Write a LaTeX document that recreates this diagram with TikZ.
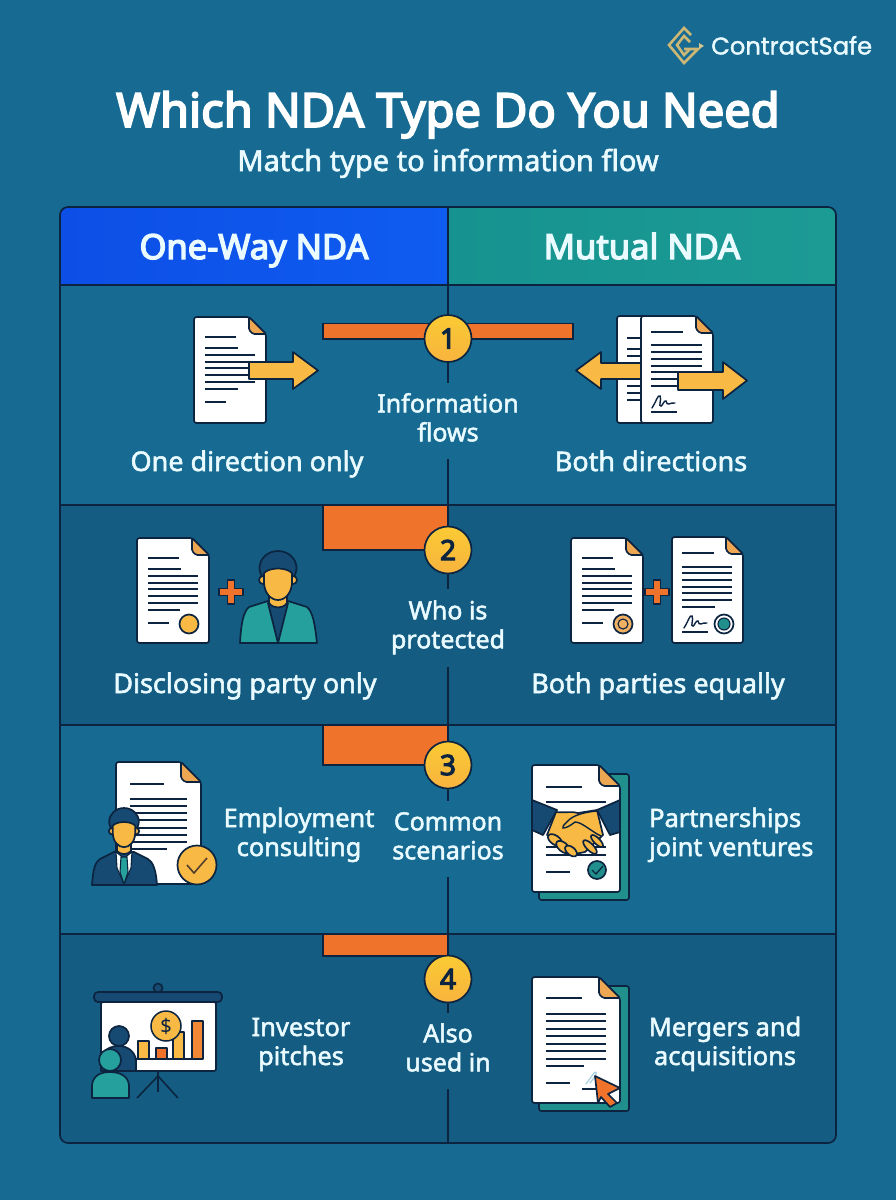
\documentclass[tikz,border=0pt]{standalone}
\usepackage{fontspec}
\setmainfont{Noto Sans}
\newfontfamily\medf{Noto Sans}[FakeBold=2]
\newfontfamily\boldf{Noto Sans}[FakeBold=4]
\newfontfamily\brandf{Poppins}[FakeBold=1.5]
\definecolor{pagebg}{HTML}{176B93}
\definecolor{rowdark}{HTML}{145C82}
\definecolor{ink}{HTML}{0C2440}
\definecolor{lightink}{HTML}{EAFBFF}
\definecolor{orng}{HTML}{EF732B}
\definecolor{gold}{HTML}{F8B945}
\definecolor{foldc}{HTML}{EDA752}
\definecolor{navy}{HTML}{164A72}
\definecolor{tealc}{HTML}{25A09C}
\definecolor{brandgold}{HTML}{CDB775}
\definecolor{hblueA}{HTML}{0D4FE6}
\definecolor{hblueB}{HTML}{0F5CF0}
\definecolor{htealA}{HTML}{169390}
\definecolor{htealB}{HTML}{1C9A94}
\tikzset{
  grid/.style={draw=ink,line width=1.7pt},
  ol/.style={draw=ink,line width=1.7pt,line join=round},
  txtline/.style={draw=ink,line width=1.7pt},
  bodybase/.style={text=lightink,inner sep=0pt,align=center},
  oneline/.style={bodybase,anchor=base,font=\medf\fontsize{27}{29}\selectfont},
  body/.style={bodybase,font=\medf\fontsize{25.4}{29}\selectfont},
  mid/.style={bodybase,font=\medf\fontsize{25}{29}\selectfont,minimum width=130pt},
  headfont/.style={text=lightink,inner sep=0pt,anchor=base,font=\boldf\fontsize{34.5}{35}\selectfont},
  numc/.style={circle,minimum size=47pt,inner sep=0pt,draw=ink,line width=1.7pt,top color=gold!75!yellow,bottom color=gold!90!orange,text=ink,font=\boldf\fontsize{28}{28}\selectfont},
  barc/.style={fill=orng,draw=ink,line width=1.5pt},
}
\newcommand{\twol}[2]{\strut #1\\\strut #2}
% page: x y w h fold
\newcommand{\docpage}[5]{%
  \begin{scope}[shift={(#1,#2)}]
    \draw[ol,fill=white,rounded corners=2.5pt] (0,0) -- (#3-#5,0) -- (#3,#5) -- (#3,#4) -- (0,#4) -- cycle;
    \draw[ol,fill=foldc,rounded corners=1.5pt] (#3-#5,0) -- (#3,#5) -- (#3-#5+4,#5) -- (#3-#5,#5-4) -- cycle;
  \end{scope}}
\newcommand{\rules}[2]{\foreach \yy/\xx in {#2}{\draw[txtline] (#1,\yy) -- (\xx,\yy);}}
\newcommand{\signa}[2]{%
  \begin{scope}[shift={(#1,#2)}]
    \draw[draw=ink,line width=1.4pt,line cap=round] (0,0) .. controls (4,-6) and (6,-14) .. (8,-12) .. controls (10,-9) and (6,-1) .. (9,-2) .. controls (11,-3) and (12,-8) .. (14,-7) .. controls (15,-5) and (15,-3) .. (17,-4) .. controls (19,-5) and (20,-5) .. (23,-5);
  \end{scope}}
\newcommand{\plusicon}[2]{%
  \begin{scope}[shift={(#1,#2)}]
    \draw[ol,fill=orng,line width=1.2pt] (-3.5,-12) -- (3.5,-12) -- (3.5,-3.5) -- (12,-3.5) -- (12,3.5) -- (3.5,3.5) -- (3.5,12) -- (-3.5,12) -- (-3.5,3.5) -- (-12,3.5) -- (-12,-3.5) -- (-3.5,-3.5) -- cycle;
  \end{scope}}
\newcommand{\headicon}[3]{%
  \begin{scope}[shift={(#1,#2)},scale=#3]
    \draw[ol,fill=navy] (0,17) ellipse (18.5 and 17);
    \draw[ol,fill=gold] (-15,29) circle (4);
    \draw[ol,fill=gold] (15,29) circle (4);
    \draw[ol,fill=gold] (-14,22) .. controls (-8,16) and (8,16) .. (14,22) -- (14,31) .. controls (14,42) and (7,49) .. (0,49) .. controls (-7,49) and (-14,42) .. (-14,31) -- cycle;
  \end{scope}}
\begin{document}
\begin{tikzpicture}[x=1pt,y=-1pt]
\useasboundingbox (0,0) rectangle (896,1200);
\fill[pagebg] (0,0) rectangle (896,1200);

% ---------- heading
\node[text=white,inner sep=0pt,anchor=base,font=\boldf\fontsize{47}{47}\selectfont] (title) at (448,127) {Which NDA Type Do You Need};
\node[text=lightink,inner sep=0pt,anchor=base,font=\medf\fontsize{29}{29}\selectfont] (subtitle) at (448,171) {Match type to information flow};
\node[text=lightink,inner sep=0pt,anchor=base west,font=\brandf\fontsize{24.2}{25}\selectfont] (brand) at (711,54.5) {ContractSafe};
% logo
\draw[brandgold,line width=2.6pt,line join=miter] (691,35) -- (684,28) -- (669,45) -- (684,63) -- (698,49) -- (684,49);
\draw[brandgold,line width=2.6pt,line join=miter] (690,42) -- (684,36) -- (677,45) -- (684,55) -- (690,49);
\fill[brandgold!80!lightink] (699,43) -- (704,46) -- (699,49) -- cycle;

% ---------- table
\begin{scope}
  \clip[rounded corners=8pt] (60,207) rectangle (836,1143);
  \shade[left color=hblueA,right color=hblueB] (60,207) rectangle (448,285);
  \shade[left color=htealA,right color=htealB] (448,207) rectangle (836,285);
  \fill[pagebg] (60,285) rectangle (836,505);
  \fill[rowdark] (60,505) rectangle (836,725);
  \fill[pagebg] (60,725) rectangle (836,934);
  \fill[rowdark] (60,934) rectangle (836,1143);
  \draw[barc] (323,323.5) rectangle (573,339);
  \draw[barc] (323,505) rectangle (448,550);
  \draw[barc] (323,725) rectangle (448,765);
  \draw[barc] (323,934) rectangle (448,956);
\end{scope}
\draw[grid] (60,285) -- (836,285);
\draw[grid] (60,505) -- (836,505);
\draw[grid] (60,725) -- (836,725);
\draw[grid] (60,934) -- (836,934);
\draw[grid] (448,207) -- (448,285);
\draw[grid,rounded corners=8pt] (60,207) rectangle (836,1143);

\node[headfont] (headL) at (254,259) {One-Way NDA};
\node[headfont] (headR) at (642,259) {Mutual NDA};

% ---------- middle column
\node[numc] (c1) at (448,338.5) {1};
\node[numc] (c2) at (448,550) {2};
\node[numc] (c3) at (448,765) {3};
\node[numc] (c4) at (448,979) {4};
\node[mid,minimum height=76pt] (lab1) at (448,421) {\twol{Information}{flows}};
\node[mid,minimum height=77pt] (lab2) at (448,628) {\twol{Who is}{protected}};
\node[mid,minimum height=76pt] (lab3) at (448,839) {\twol{Common}{scenarios}};
\node[mid,minimum height=76pt] (lab4) at (448,1051) {\twol{Also}{used in}};
\coordinate (r1a) at (448,285); \coordinate (r1b) at (448,505);
\coordinate (r2b) at (448,725); \coordinate (r3b) at (448,934); \coordinate (r4b) at (448,1143);
\draw[grid] (r1a) -- (c1.north);
\draw[grid] (c1.south) -- (lab1.north);
\draw[grid] (lab1.south) -- (r1b);
\draw[grid] (c2.south) -- (lab2.north);
\draw[grid] (lab2.south) -- (r2b);
\draw[grid] (c3.south) -- (lab3.north);
\draw[grid] (lab3.south) -- (r3b);
\draw[grid] (c4.south) -- (lab4.north);
\draw[grid] (lab4.south) -- (r4b);

% ---------- cell labels
\node[oneline] (t1l) at (247,471) {One direction only};
\node[oneline] (t1r) at (651,471) {Both directions};
\node[oneline] (t2l) at (245,693) {Disclosing party only};
\node[oneline] (t2r) at (658,693) {Both parties equally};
\node[body] (t3l) at (299,835.7) {\twol{Employment}{consulting}};
\node[body,anchor=west,align=left] (t3r) at (649,835.7) {\twol{Partnerships}{joint ventures}};
\node[body] (t4l) at (301,1044.7) {\twol{Investor}{pitches}};
\node[body] (t4r) at (725,1044.7) {\twol{Mergers and}{acquisitions}};

% ---------- row 1 left icon
\docpage{194}{317}{72}{106}{17}
\rules{205}{337/236,348/238,355/255,362/255,368/255,375/255,382/255,389/238,402/226}
\draw[ol,fill=gold] (249,362) -- (293,362) -- (293,352) -- (318,370.5) -- (293,389) -- (293,379) -- (249,379) -- cycle;

% row 1 right icon
\draw[ol,fill=white,rounded corners=2.5pt] (617,316) rectangle (660,423);
\rules{627}{338/641,349/641,356/641,386/641,393/641,400/641}
\draw[ol,fill=gold] (641,363) -- (601,363) -- (601,352) -- (576,370.5) -- (601,389) -- (601,379) -- (641,379);
\docpage{641}{316}{72}{107}{17}
\rules{651}{332/683,345/702,352/702,359/702,366/702,372/680,379/680,386/680,412/677}
\signa{652}{408}
\draw[ol,fill=gold] (678,372) -- (723,372) -- (723,362) -- (747,380.5) -- (723,399) -- (723,390) -- (678,390) -- cycle;

% ---------- row 2 left icon
\docpage{137}{538}{72}{105}{17}
\rules{148}{558/179,569/181,576/198,583/198,589/198,596/198,603/198,610/180,623/169}
\draw[ol,fill=gold] (189,624) circle (9.5);
\plusicon{231}{592}
\draw[ol,fill=tealc] (240,643) .. controls (241,625) and (243,612) .. (249,607) -- (268,601) -- (288,601) -- (307,607) .. controls (313,612) and (315,625) .. (317,643) -- cycle;
\draw[ol,fill=navy] (268,603) -- (278,643) -- (288,603) -- cycle;
\draw[ol,fill=gold] (269,594) -- (269,603) .. controls (273,609) and (283,609) .. (287,603) -- (287,594) -- cycle;
\headicon{278}{551}{1}

% row 2 right icon
\docpage{571}{538}{72}{105}{17}
\rules{582}{558/613,569/615,576/632,583/632,589/632,596/632,603/632,610/614,623/603}
\draw[ol,fill=foldc!90!white] (623,624) circle (9.5);
\draw[ol,fill=foldc!90!white,line width=1.1pt] (623,624) circle (5);
\plusicon{657}{592}
\docpage{672}{537}{71}{106}{17}
\rules{682}{553/714,567/732,573/732,580/732,587/732,593/732,600/732,607/715,632/708}
\signa{684}{628}
\draw[ol,fill=white] (724,624) circle (9.5);
\draw[ol,fill=tealc!90!black,line width=1.1pt] (724,624) circle (6);

% ---------- row 3 left icon
\docpage{116}{762}{85}{122}{20}
\rules{130}{784/164,799/187,806/187,813/187,820/187,828/187,835/187,842/187,849/167}
\draw[ol,fill=navy] (92,885) .. controls (93,870) and (95,862) .. (100,859) -- (114,852) -- (134,852) -- (148,859) .. controls (153,862) and (156,870) .. (157,885) -- cycle;
\draw[draw=ink,line width=1.1pt,fill=white] (116,852) -- (124,858) -- (132,852) -- (131,868) -- (124,884) -- (117,868) -- cycle;
\draw[draw=ink,line width=1.1pt,fill=tealc] (121,857) -- (127,857) -- (128,872) -- (124,884) -- (120,872) -- cycle;
\draw[ol,fill=gold] (117,842) -- (117,851) .. controls (120,855) and (128,855) .. (131,851) -- (131,842) -- cycle;
\headicon{124}{808}{0.8}
\draw[ol,fill=gold] (197,865) circle (19.5);
\draw[draw=ink!70!orange,line width=1.6pt] (187,865) -- (194,873) -- (207,858);

% row 3 right icon
\draw[ol,fill=tealc!90!black,rounded corners=2.5pt] (539,774) rectangle (629,900);
\docpage{532}{765}{88}{127}{21}
\rules{546}{787/582,802/606,847/606,855/606,872/570}
\draw[ol,fill=tealc!90!black] (597,870) circle (9);
\draw[draw=ink,line width=1.3pt] (592,870) -- (596,874) -- (603,866);
\draw[ol,fill=navy] (532,800) -- (557,810) -- (543,835) -- (532,830) -- cycle;
\draw[ol,fill=navy] (620,800) -- (597,810) -- (610,835) -- (620,832) -- cycle;
\draw[ol,fill=gold] (556,812) .. controls (565,813) and (572,811) .. (578,813) -- (597,810) -- (603,835) -- (585,852) -- (570,855) -- (552,840) -- (547,835) -- cycle;
\draw[ol,fill=gold,rotate around={-35:(555,840)}] (555,840) ellipse (8 and 4.5);
\draw[ol,fill=gold,rotate around={-40:(563,847)}] (563,847) ellipse (8 and 4.5);
\draw[ol,fill=gold,rotate around={-40:(571,851)}] (571,851) ellipse (7 and 4);
\draw[ol,fill=gold,rotate around={-45:(590,847)}] (590,847) ellipse (9 and 3.5);
\draw[ol,fill=gold,rotate around={-45:(597,841)}] (597,841) ellipse (8 and 3);
\draw[draw=ink,line width=1.4pt,line cap=round] (597,811) .. controls (585,812) and (575,815) .. (570,819) .. controls (565,824) and (562,826) .. (563,828) .. controls (566,828) and (570,826) .. (575,822) .. controls (582,822) and (592,832) .. (601,836);

% ---------- row 4 left icon
\draw[ol,fill=navy] (158,988) circle (4.5);
\draw[ol,fill=white,rounded corners=2pt] (101,1002) rectangle (216,1071);
\draw[ol,fill=navy,rounded corners=4pt] (94,992) rectangle (222,1002);
\draw[draw=ink,line width=1.6pt] (158,1071) -- (158,1092);
\draw[draw=ink,line width=1.6pt] (137,1098) -- (158,1076) -- (178,1098);
\draw[ol,fill=gold] (138,1041) rectangle (149,1059);
\draw[ol,fill=orng] (156,1048) rectangle (167,1059);
\draw[ol,fill=gold] (173,1032) rectangle (184,1059);
\draw[ol,fill=orng!70!gold] (192,1021) rectangle (203,1059);
\draw[draw=ink,line width=1.4pt] (130,1059) -- (203,1059);
\node[circle,minimum size=30pt,inner sep=0pt,draw=ink,line width=1.5pt,fill=gold,text=ink,font=\fontsize{20}{20}\selectfont] (coin) at (166,1026) {\$};
\draw[ol,fill=navy] (101,1071) -- (101,1060) .. controls (102,1050) and (110,1046) .. (119,1046) .. controls (128,1046) and (135,1052) .. (136,1060) -- (136,1071) -- cycle;
\draw[ol,fill=navy] (119,1036) circle (10);
\draw[ol,fill=tealc] (92,1098) -- (92,1085) .. controls (93,1076) and (100,1072) .. (110,1072) .. controls (120,1072) and (128,1076) .. (129,1085) -- (129,1098) -- cycle;
\draw[ol,fill=tealc] (110,1060) circle (11);

% row 4 right icon
\draw[ol,fill=tealc!90!black,rounded corners=2.5pt] (539,986) rectangle (629,1111);
\docpage{532}{977}{88}{126}{21}
\rules{546}{998/582,1014/606,1021/606,1029/606,1036/606,1044/606,1051/606,1059/606,1066/584,1083/570}
\draw[txtline] (582,1089) -- (600,1089);
\draw[draw=lightink!70!pagebg,line width=1.3pt,line cap=round] (586,1084) -- (594,1073) .. controls (596,1071) and (597,1073) .. (596,1075) -- (590,1083);
\draw[ol,fill=orng] (595,1076) -- (620,1088) -- (608,1094) -- (617,1103) -- (610,1107) -- (601,1097) -- (598,1103) -- cycle;
\end{tikzpicture}
\end{document}
